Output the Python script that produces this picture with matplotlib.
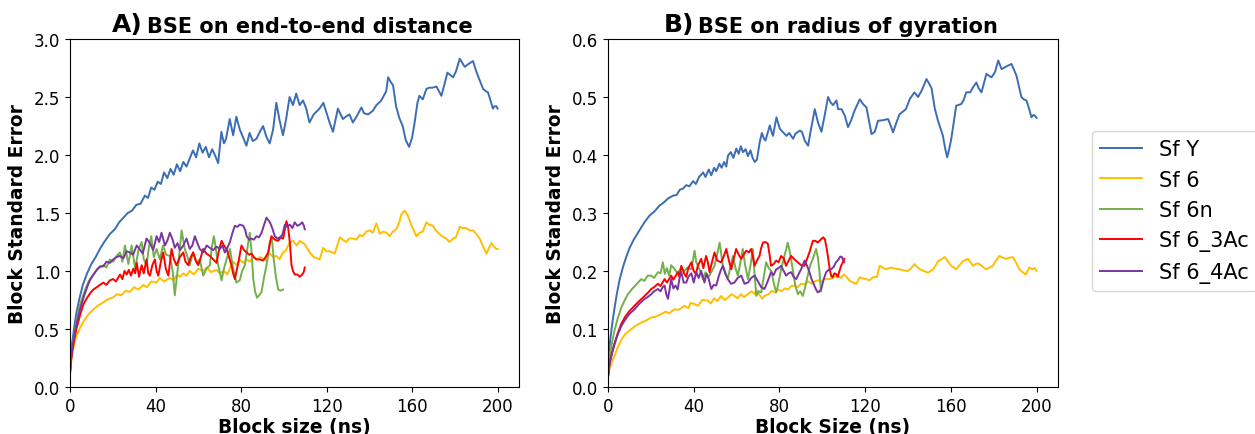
import matplotlib
matplotlib.use("Agg")
import matplotlib.pyplot as plt

# ---------------------------------------------------------------------------
# Block standard error (BSE) versus block size, (block size [ns], BSE) pairs
# ---------------------------------------------------------------------------
series_labels = ["Sf Y", "Sf 6", "Sf 6n", "Sf 6_3Ac", "Sf 6_4Ac"]
series_colors = ["#3B6DB4", "#FFBF00", "#72B04A", "#FF0000", "#7A35A3"]

# Panel A: BSE on end-to-end distance
sfy_e2e = [(0.1,0.15),(0.5,0.28),(1,0.38),(2,0.52),(3,0.64),(4.5,0.77),(6,0.88),(8,0.98),(10,1.06),(12,1.12),(14,1.19),
           (16,1.25),(18.7,1.32),(21,1.36),(23,1.42),(25,1.46),(27,1.50),(29,1.52),(31,1.57),(33,1.58),(35,1.65),
           (36.5,1.63),(38,1.72),(39.5,1.70),(41,1.77),(42.5,1.75),(44,1.85),(45.5,1.80),(47,1.88),(48.5,1.83),
           (50,1.92),(51.5,1.86),(53,1.94),(54.5,1.90),(56,1.97),(57.5,2.04),(59,1.98),(60.5,2.10),(62,2.02),
           (63.5,2.07),(65,1.98),(66.5,2.05),(68,1.99),(69.3,1.93),(70.8,2.20),(72,2.10),(73,2.14),(74.7,2.31),
           (76.3,2.17),(77.8,2.33),(79.4,2.22),(81,2.15),(82.5,2.08),(84,2.19),(85.5,2.12),(87.2,2.14),(88.8,2.20),
           (90.3,2.25),(91.8,2.16),(93.4,2.10),(95,2.22),(96.5,2.45),(98,2.30),(99.6,2.17),(101,2.30),(102.7,2.50),
           (104.3,2.43),(105.8,2.53),(107.4,2.43),(109,2.47),(110.5,2.40),(112,2.28),(114,2.35),(116.7,2.40),
           (118.5,2.45),(121.4,2.28),(123,2.20),(125.3,2.40),(127.6,2.31),(129,2.33),(130.7,2.35),(132.3,2.28),
           (134,2.33),(136.3,2.41),(137.5,2.36),(139.4,2.35),(141.6,2.38),(143.3,2.43),(145.6,2.47),(147.9,2.55),
           (148.8,2.67),(150,2.63),(151.1,2.60),(152.5,2.42),(154,2.32),(155.6,2.25),(157,2.13),(158.6,2.07),
           (160,2.15),(161.1,2.27),(162.5,2.45),(163.4,2.51),(165,2.48),(166.7,2.57),(168,2.58),(169.5,2.58),
           (171.4,2.59),(173.7,2.51),(175,2.60),(176.5,2.71),(179.2,2.67),(180.5,2.72),(182.3,2.83),(184.6,2.76),
           (186,2.78),(188.5,2.81),(190,2.72),(193.2,2.57),(194.5,2.55),(195.5,2.54),(196.5,2.48),(197.8,2.40),
           (198.5,2.42),(199.4,2.42),(200,2.40)]

sf6_e2e = [(0.1,0.12),(0.5,0.21),(1,0.28),(2,0.37),(3,0.44),(4.7,0.51),(6.5,0.57),(8,0.61),(9.3,0.64),(11,0.67),(13,0.70),
           (15.6,0.73),(18,0.76),(20,0.77),(22,0.80),(24,0.79),(26,0.83),(28,0.82),(30,0.86),(32,0.84),(34.3,0.88),
           (36,0.86),(38,0.91),(40.5,0.90),(42,0.94),(44,0.91),(46.7,0.94),(48.5,0.92),(50,0.97),(51.4,0.95),
           (53,0.98),(54.5,0.96),(56,1.00),(58,0.97),(60,1.02),(62.3,1.00),(64,1.03),(66,0.99),(68.5,1.01),
           (70,0.98),(72,1.00),(73.5,0.97),(75,1.03),(76.3,1.08),(78,1.05),(79.4,1.10),(81,1.07),(82.6,1.10),
           (84,1.08),(85.6,1.12),(87.2,1.10),(89,1.12),(91.8,1.09),(93.5,1.15),(95,1.12),(96.5,1.13),(98,1.10),
           (99.6,1.16),(101,1.18),(102.8,1.25),(104.3,1.26),(106,1.22),(107.5,1.26),(109.8,1.23),(112.1,1.16),
           (114,1.12),(116.8,1.10),(118.4,1.20),(120,1.17),(121.5,1.17),(123.8,1.15),(126.2,1.29),(127.5,1.27),
           (129.3,1.25),(130.5,1.28),(132.4,1.28),(134,1.27),(135.4,1.31),(137,1.30),(138.5,1.34),(140.2,1.35),
           (141.6,1.33),(143.3,1.41),(144.9,1.32),(146.5,1.34),(148,1.33),(149.5,1.30),(151,1.34),(152.6,1.36),
           (154,1.42),(155,1.49),(156.5,1.52),(158,1.48),(158.9,1.43),(160.5,1.36),(162,1.30),(163.5,1.33),
           (165,1.34),(166.7,1.42),(168,1.40),(169.8,1.39),(171,1.35),(172.2,1.33),(174,1.30),(176,1.28),
           (177.5,1.25),(179.2,1.28),(180.5,1.29),(182.3,1.38),(183.5,1.37),(185.2,1.37),(187,1.35),(188.5,1.35),
           (190,1.32),(191.6,1.28),(193,1.22),(194.8,1.15),(196,1.20),(197.1,1.24),(198.4,1.21),(199.4,1.19),
           (200,1.19)]

sf6n_e2e = [(0.1,0.15),(0.5,0.25),(1,0.34),(2,0.46),(3,0.57),(4.7,0.71),(6.5,0.81),(8,0.88),(9.3,0.93),(11,0.97),(13,1.02),
            (15.6,1.05),(17,1.03),(18.7,1.10),(20.2,1.08),(21.8,1.13),(23.4,1.16),(24.5,1.08),(25.7,1.22),
            (27.3,1.06),(28.8,1.22),(30.5,1.02),(32,1.18),(33.5,1.25),(34.5,1.10),(35.8,1.05),(37,1.22),(38,1.30),
            (39.2,1.12),(40.5,1.19),(42,1.10),(43.5,1.22),(45,1.14),(46.7,1.13),(48,1.00),(49,0.79),(50.6,1.05),
            (52.2,1.35),(53.7,1.19),(55,1.12),(56,1.05),(57.6,1.16),(59.2,1.07),(60.7,1.10),(62.3,0.96),
            (63.8,1.02),(65.4,1.05),(66.3,1.20),(67.3,1.30),(68.3,1.18),(69.3,1.05),(70.9,0.92),(72,1.02),
            (73.2,1.10),(74.8,1.19),(76.3,1.02),(77.8,0.90),(79.4,0.92),(80.5,1.00),(81.8,1.05),(83,1.20),
            (84.1,1.33),(85,1.15),(85.7,0.93),(86.6,0.82),(87.5,0.77),(88.5,0.79),(89.6,0.82),(90.8,0.95),
            (91.9,1.05),(93.5,1.25),(94.4,1.28),(95.3,1.10),(96.3,0.95),(97.4,0.84),(98.5,0.83),(99.7,0.84)]

sf6_3ac_e2e = [(0.1,0.14),(0.5,0.23),(1,0.30),(2,0.41),(3,0.50),(4.7,0.62),(6.2,0.71),(8,0.77),(9.5,0.81),(10.9,0.84),
               (12.5,0.86),(14,0.88),(15.6,0.90),(17,0.88),(18.7,0.92),(20.2,0.93),(21.5,0.91),(23.4,0.97),
               (24.5,0.93),(25.5,1.00),(26.5,0.97),(27.5,1.01),(28.5,0.96),(29.6,1.02),(30.5,0.98),(31.2,1.07),
               (32.3,0.95),(33.5,1.05),(34.5,0.98),(35.8,1.10),(36.6,0.98),(37.4,0.96),(38.5,1.05),(39.7,1.10),
               (40.5,1.00),(41.3,0.96),(42.5,1.08),(43.6,1.16),(44.8,1.02),(46,0.96),(46.8,1.08),(47.5,1.19),
               (48.6,1.10),(49.8,1.05),(51.4,1.12),(53,1.16),(54,1.08),(55.3,1.05),(56.5,1.12),(57.6,1.16),
               (58.8,1.09),(60,1.05),(61.2,1.12),(62.3,1.19),(63.8,1.15),(65.4,1.13),(67,1.10),(68.5,1.07),
               (69.7,1.18),(70.9,1.26),(72,1.22),(73.2,1.19),(74.4,1.12),(75.5,1.05),(76.3,0.98),(77.1,0.93),
               (77.9,1.00),(78.7,1.07),(79.5,1.15),(80.2,1.22),(81.4,1.18),(82.6,1.16),(83.8,1.14),(84.9,1.15),
               (86,1.12),(87.2,1.10),(88.7,1.10),(90.3,1.09),(91.5,1.12),(92.7,1.16),(93.5,1.24),(94.2,1.30),
               (95.8,1.27),(97.4,1.26),(98.5,1.29),(99.7,1.28),(100.5,1.36),(101.2,1.43),(102,1.38),(102.8,1.25),
               (103.6,1.05),(104.3,1.00),(105.1,0.97),(106.3,0.97),(107.5,0.95),(108.6,0.97),(109.3,0.99),
               (109.8,1.03)]

sf6_4ac_e2e = [(0.1,0.15),(0.5,0.24),(1,0.33),(2,0.44),(3,0.54),(4.7,0.67),(6.5,0.78),(8,0.86),(9.3,0.92),(11,0.97),
               (12.5,1.01),(14,1.04),(15.6,1.04),(17,1.08),(18.7,1.07),(20.2,1.10),(21.8,1.12),(23.4,1.13),
               (25,1.11),(26.5,1.17),(28,1.16),(29.5,1.14),(31.2,1.22),(32.5,1.19),(34,1.15),(35.8,1.28),
               (37.4,1.24),(38.9,1.18),(40.5,1.30),(41.7,1.25),(42.8,1.33),(44.4,1.22),(45.5,1.26),(46.7,1.33),
               (48,1.27),(49,1.20),(50.3,1.24),(51.4,1.18),(53,1.22),(54.5,1.28),(56,1.19),(57.2,1.22),(58.4,1.30),
               (59.6,1.24),(60.7,1.19),(62.3,1.16),(63.9,1.22),(65.4,1.20),(67,1.18),(68.5,1.21),(70.1,1.19),
               (71.3,1.22),(72.4,1.16),(73.6,1.20),(74.8,1.25),(76,1.33),(77.1,1.39),(78.3,1.38),(79.4,1.40),
               (81,1.39),(82,1.35),(82.6,1.30),(83.8,1.27),(84.9,1.28),(86,1.27),(87.2,1.30),(88.4,1.29),
               (89.6,1.33),(90.8,1.40),(91.9,1.46),(93.5,1.42),(94.6,1.37),(95.8,1.30),(97,1.28),(98.1,1.29),
               (99.3,1.31),(100.5,1.40),(101.6,1.38),(102.8,1.40),(104,1.37),(105.1,1.42),(106.3,1.39),
               (107.5,1.40),(108.6,1.42),(109.4,1.39),(109.8,1.36)]

# Panel B: BSE on radius of gyration
sfy_rg = [(0.1,0.03),(0.5,0.06),(1,0.08),(2,0.11),(3,0.135),(4,0.158),(5.4,0.185),(7,0.207),(8.5,0.224),(10.1,0.240),(12,0.254),
          (14.8,0.271),(17,0.284),(19.5,0.296),(21.5,0.302),(24.1,0.313),(26,0.318),(28,0.325),(30.4,0.330),
          (32,0.331),(33.5,0.340),(35,0.342),(36.5,0.348),(38,0.346),(39.7,0.355),(41,0.350),(42.5,0.362),
          (44.4,0.370),(45.5,0.362),(47,0.375),(48.2,0.365),(49.5,0.378),(50.5,0.372),(52,0.385),(53,0.378),
          (54.2,0.388),(55.2,0.380),(56,0.399),(57.3,0.405),(58.5,0.395),(59.9,0.411),(61,0.402),(62,0.415),
          (63,0.405),(64.2,0.410),(65.3,0.398),(66.5,0.408),(67.5,0.395),(68.5,0.388),(69.5,0.392),(70.8,0.422),
          (71.8,0.438),(72.8,0.428),(73.5,0.425),(75.5,0.451),(76.5,0.438),(77,0.433),(78.6,0.465),(80.2,0.445),
          (81.5,0.440),(83.3,0.433),(84.5,0.438),(86.4,0.428),(87.5,0.437),(89.5,0.442),(90.5,0.440),
          (91.8,0.425),(93.4,0.416),(94.5,0.440),(96.5,0.479),(98,0.456),(99.6,0.440),(101.2,0.470),
          (102.7,0.500),(104,0.490),(105,0.486),(106.6,0.494),(107.4,0.479),(109,0.479),(110.5,0.468),
          (112,0.448),(113.5,0.460),(115,0.476),(117.5,0.496),(119,0.488),(120.6,0.482),(122,0.455),
          (123,0.436),(124.5,0.440),(126,0.459),(128.4,0.460),(130.7,0.462),(132,0.450),(133,0.439),
          (134.5,0.455),(136,0.470),(139,0.479),(140.9,0.497),(143,0.508),(144.7,0.500),(146.5,0.512),
          (148.6,0.531),(150,0.522),(151,0.515),(152.5,0.480),(154,0.459),(156.3,0.433),(157.3,0.412),
          (158.3,0.396),(159.2,0.410),(160.2,0.428),(161.5,0.460),(162.5,0.485),(164.9,0.488),(166,0.495),
          (167.2,0.508),(169,0.508),(170.4,0.517),(171.9,0.525),(173,0.515),(174.3,0.508),(175.5,0.525),
          (176.6,0.540),(178,0.536),(179,0.534),(180.6,0.543),(182.1,0.563),(183.7,0.548),(185.5,0.552),
          (188.3,0.557),(190.6,0.537),(192.9,0.500),(194,0.496),(195.3,0.494),(196.5,0.480),(197.6,0.465),
          (198.5,0.469),(199.1,0.468),(200,0.464)]

sf6_rg = [(0.1,0.02),(0.5,0.027),(1,0.035),(2,0.045),(3.1,0.054),(4.5,0.068),(6.2,0.081),(8,0.091),(10.9,0.100),(13,0.106),
          (15.5,0.111),(17.5,0.114),(20.2,0.120),(22,0.121),(24.9,0.126),(27,0.130),(28.5,0.127),(31.1,0.134),
          (33,0.133),(35.7,0.140),(37.5,0.136),(38.5,0.145),(40.4,0.143),(42,0.140),(44,0.150),(46.6,0.149),
          (48,0.144),(49.5,0.153),(51,0.148),(52.8,0.157),(54.5,0.150),(56,0.154),(57.5,0.160),(59,0.157),
          (60.5,0.153),(62,0.160),(63.5,0.155),(65.3,0.160),(67,0.165),(68.5,0.160),(69.2,0.168),(70.5,0.160),
          (72,0.152),(73,0.157),(75,0.160),(76.5,0.166),(77.7,0.163),(79.5,0.168),(81,0.165),(82.4,0.170),
          (84,0.168),(85.5,0.174),(87,0.175),(88.5,0.172),(90,0.178),(91.7,0.177),(93.5,0.182),(95,0.178),
          (96.3,0.182),(98,0.184),(99.6,0.181),(101,0.186),(103.5,0.186),(105.7,0.190),(107.4,0.191),
          (108.8,0.188),(110,0.194),(111.3,0.190),(112.8,0.183),(114.4,0.180),(115.9,0.178),(117.4,0.189),
          (119,0.187),(120.5,0.186),(122,0.184),(123.6,0.189),(125.5,0.190),(126.8,0.209),(128.5,0.205),
          (129.9,0.203),(132.2,0.206),(134,0.204),(136,0.203),(138,0.201),(140,0.200),(141.5,0.205),
          (143,0.212),(144.3,0.207),(145.5,0.203),(147.5,0.200),(149.3,0.197),(151.7,0.203),(153,0.210),
          (154,0.217),(155.5,0.220),(157.2,0.224),(158.7,0.216),(160.2,0.209),(162.5,0.203),(164,0.210),
          (165.7,0.217),(168,0.221),(169.3,0.214),(170.4,0.209),(172,0.213),(173.4,0.212),(175,0.207),
          (176.5,0.203),(178,0.206),(179.6,0.209),(181.2,0.219),(182.7,0.226),(184.2,0.223),(185.8,0.221),
          (187.4,0.223),(188.9,0.224),(190.5,0.214),(192,0.203),(193.5,0.198),(195,0.194),(196.6,0.206),
          (198.1,0.203),(199.2,0.205),(200,0.200)]

sf6n_rg = [(0.1,0.02),(0.5,0.042),(1,0.058),(2,0.079),(3,0.097),(4.5,0.118),(6.2,0.137),(8,0.151),(9.3,0.160),(11,0.168),
           (13,0.176),(15.5,0.186),(17,0.183),(18.5,0.192),(20.2,0.192),(21.5,0.188),(23.3,0.198),(24.5,0.196),
           (25.6,0.215),(26.5,0.195),(27.5,0.205),(28.5,0.192),(29.5,0.210),(31.1,0.203),(32.5,0.196),
           (34.2,0.206),(35.5,0.199),(37,0.206),(38.9,0.203),(40.4,0.235),(41.2,0.215),(42,0.209),(43,0.200),
           (44.3,0.186),(45.5,0.198),(47,0.190),(48.5,0.200),(49.7,0.209),(51,0.230),(52.1,0.249),(53,0.225),
           (53.6,0.209),(55,0.195),(55.9,0.186),(57,0.205),(58.3,0.226),(59.5,0.205),(60.6,0.192),(61.8,0.215),
           (62.9,0.238),(64,0.210),(65.3,0.186),(66.5,0.210),(67.6,0.238),(68.4,0.195),(69.2,0.157),(70.3,0.165),
           (71.5,0.163),(72.7,0.190),(73.8,0.215),(75,0.205),(76.2,0.200),(77.3,0.180),(78.5,0.163),(79.6,0.180),
           (80.8,0.203),(82.3,0.225),(83.9,0.249),(85,0.230),(86.2,0.203),(87.4,0.175),(88.6,0.160),(89.7,0.165),
           (90.9,0.157),(92,0.172),(93.2,0.192),(94.4,0.210),(95.6,0.221),(97.1,0.238),(98,0.222),(98.7,0.198),
           (99.2,0.175),(99.5,0.165)]

sf6_3ac_rg = [(0.1,0.02),(0.5,0.034),(1,0.045),(2,0.06),(3,0.075),(4.5,0.092),(6.2,0.109),(8,0.121),(10,0.131),(12.4,0.140),
              (14.5,0.148),(17.1,0.157),(18.5,0.162),(20.2,0.169),(21.5,0.172),(23.3,0.178),(24.5,0.174),
              (26.4,0.186),(27.5,0.180),(29.5,0.192),(30.5,0.185),(32.6,0.198),(33.3,0.190),(34.2,0.209),
              (35.5,0.196),(36.5,0.190),(37.5,0.205),(38.9,0.215),(40,0.200),(41,0.195),(42,0.210),(43.5,0.221),
              (44.5,0.205),(45.8,0.226),(46.6,0.215),(47.4,0.198),(48.5,0.215),(49.7,0.232),(51,0.218),
              (52.8,0.215),(54,0.225),(55.2,0.238),(56.3,0.220),(57.5,0.203),(58.6,0.220),(59.8,0.238),
              (61,0.228),(62.2,0.221),(63.3,0.228),(64.5,0.235),(65.7,0.232),(66.8,0.238),(67.6,0.225),
              (68.4,0.209),(69.5,0.218),(70.7,0.226),(71.5,0.240),(72.3,0.249),(73.5,0.250),(74.6,0.247),
              (75.4,0.228),(76.1,0.209),(77.3,0.212),(78.5,0.218),(79.6,0.215),(80.8,0.226),(82,0.222),
              (83.1,0.209),(84.3,0.218),(85.5,0.226),(87,0.220),(88.6,0.215),(90.1,0.210),(91.7,0.209),
              (92.8,0.220),(94,0.232),(95.6,0.252),(96.8,0.252),(97.9,0.249),(99.5,0.255),(100.4,0.258),
              (101.2,0.255),(102,0.240),(102.6,0.226),(103.4,0.205),(104.1,0.192),(104.8,0.189),(105.6,0.196),
              (106.4,0.195),(107.2,0.190),(108,0.200),(108.8,0.209),(109.6,0.215),(110.3,0.221)]

sf6_4ac_rg = [(0.1,0.02),(0.5,0.034),(1,0.045),(2,0.06),(3,0.073),(4.5,0.090),(6.2,0.105),(8,0.116),(10,0.126),(12.4,0.134),
              (14.5,0.143),(17.1,0.152),(18.5,0.155),(20.2,0.160),(21.5,0.165),(23.3,0.169),(24.5,0.165),
              (25.5,0.172),(26.4,0.175),(27.2,0.160),(28,0.152),(28.8,0.170),(29.5,0.186),(30.5,0.170),
              (31.5,0.175),(32.5,0.168),(33.5,0.190),(34.2,0.198),(35.3,0.180),(36.5,0.180),(37.5,0.190),
              (38.9,0.196),(40,0.180),(41.2,0.198),(42.3,0.188),(43.5,0.200),(44.3,0.190),(45,0.180),(46,0.195),
              (47,0.186),(48.2,0.169),(49.3,0.176),(50.5,0.175),(51.6,0.190),(52.5,0.200),(53.6,0.209),
              (54.8,0.195),(55.9,0.186),(57.4,0.178),(59,0.180),(60.5,0.188),(62.2,0.192),(63.7,0.178),(65.3,0.180),
              (66.8,0.188),(68.4,0.192),(70,0.182),(71.5,0.172),(73,0.169),(74.5,0.182),(76.1,0.198),(77.3,0.193),
              (78.5,0.203),(79.6,0.205),(80.8,0.209),(82,0.200),(83.1,0.192),(84.3,0.196),(85.5,0.198),
              (86.6,0.190),(87.8,0.186),(89,0.195),(90.1,0.203),(91.7,0.218),(92.8,0.210),(94,0.198),(95.1,0.185),
              (96.3,0.175),(97.1,0.168),(97.9,0.163),(98.7,0.165),(99.5,0.169),(100.6,0.185),(101.8,0.198),
              (103,0.202),(104.1,0.203),(105.3,0.207),(106.4,0.215),(107.6,0.220),(108.4,0.225),(109.2,0.224),
              (109.8,0.218),(110.3,0.215)]

x_ticks = [0, 40, 80, 120, 160, 200]
e2e_ticks = [0.0, 0.5, 1.0, 1.5, 2.0, 2.5, 3.0]
rg_ticks = [0.0, 0.1, 0.2, 0.3, 0.4, 0.5, 0.6]

panels = [
    dict(tag="A)", title="BSE on end-to-end distance", xlabel="Block size (ns)",
         data=[sfy_e2e, sf6_e2e, sf6n_e2e, sf6_3ac_e2e, sf6_4ac_e2e], yticks=e2e_ticks),
    dict(tag="B)", title="BSE on radius of gyration", xlabel="Block Size (ns)",
         data=[sfy_rg, sf6_rg, sf6n_rg, sf6_3ac_rg, sf6_4ac_rg], yticks=rg_ticks),
]

W, H = 1255, 435
fig = plt.figure(figsize=(W / 100, H / 100), dpi=100)
axes = [fig.add_axes([70 / W, 47 / H, 449 / W, 348 / H]),
        fig.add_axes([608 / W, 47 / H, 450 / W, 348 / H])]

handles = []
for ax, p in zip(axes, panels):
    handles = []
    for pts, lab, col in zip(p["data"], series_labels, series_colors):
        xs, ys = zip(*pts)
        h, = ax.plot(xs, ys, color=col, lw=1.4, label=lab)
        handles.append(h)
    ax.set_xlim(0, 210)
    ax.set_ylim(p["yticks"][0], p["yticks"][-1])
    ax.set_xticks(x_ticks)
    ax.set_yticks(p["yticks"])
    ax.set_yticklabels([f"{v:.1f}" for v in p["yticks"]])
    ax.tick_params(labelsize=12)
    ax.set_xlabel(p["xlabel"], fontsize=13.4, fontweight="bold", labelpad=2)
    ax.set_ylabel("Block Standard Error", fontsize=13.4, fontweight="bold", labelpad=5)
    t = ax.text(0.534, 1 + 7 / 348, p["title"], transform=ax.transAxes, ha="center",
                va="baseline", fontsize=15, fontweight="bold")
    ax.annotate(p["tag"], xy=(0, 0), xycoords=t, xytext=(-3, 0), textcoords="offset points",
                ha="right", va="bottom", fontsize=18, fontweight="bold")

fig.legend(handles, series_labels, loc="center left", bbox_to_anchor=(1092 / W, 1 - 212 / H),
           fontsize=15, frameon=True, borderaxespad=0)

fig.savefig("out.png", dpi=100)
